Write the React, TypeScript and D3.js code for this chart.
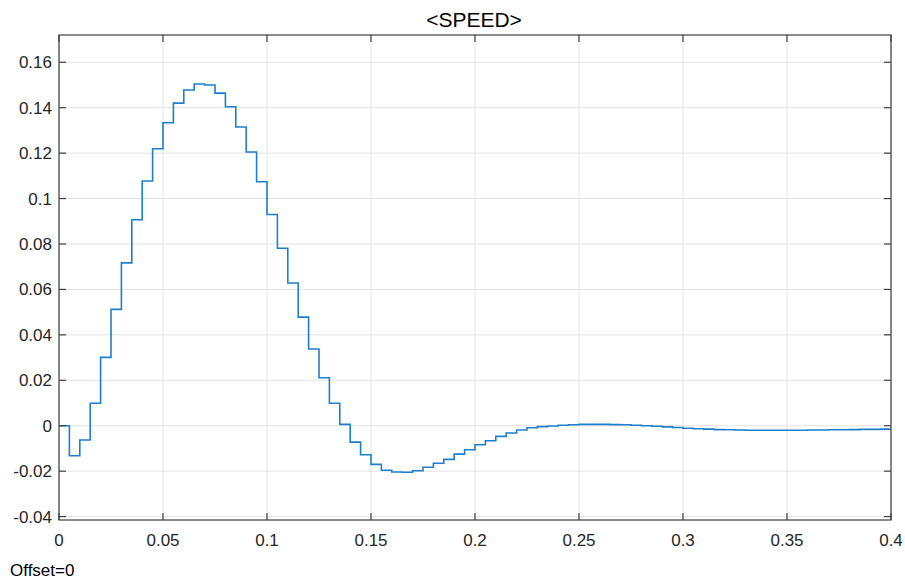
import React from "react";
import * as d3 from "d3";

const sampleTime = 0.005;
const speedValues: number[] = [
  0, -0.0132, -0.0063, 0.0099, 0.0301, 0.0512, 0.0717, 0.0907, 0.1077, 0.1219,
  0.1334, 0.142, 0.1478, 0.1504, 0.15, 0.1464, 0.1404, 0.1315, 0.1205, 0.1074,
  0.093, 0.0781, 0.0628, 0.0478, 0.0338, 0.0211, 0.0099, 0.0006, -0.0072, -0.0128,
  -0.017, -0.0196, -0.0204, -0.0205, -0.0198, -0.0183, -0.0165, -0.0148, -0.0125, -0.0106,
  -0.0084, -0.0066, -0.0047, -0.0032, -0.0019, -0.0009,
  -0.0004, -0.0001, 0.0002, 0.0004, 0.0006, 0.0006, 0.0006, 0.0005, 0.0004, 0.0002,
  0.0, -0.0002, -0.0005, -0.0008, -0.0011, -0.0013, -0.0015, -0.0017, -0.0018, -0.0019,
  -0.002, -0.002, -0.002, -0.002, -0.002, -0.002, -0.0019, -0.0019, -0.0018, -0.0018,
  -0.0017, -0.0016, -0.0016, -0.0015, -0.0015,
];
const xTicks: number[] = [0, 0.05, 0.1, 0.15, 0.2, 0.25, 0.3, 0.35, 0.4];
const yTicks: number[] = [-0.04, -0.02, 0, 0.02, 0.04, 0.06, 0.08, 0.1, 0.12, 0.14, 0.16];
const titleText = "<SPEED>";
const footerText = "Offset=0";

const W = 905;
const H = 583;
const left = 59;
const right = 891;
const top = 35;
const bottom = 520;
const FONT = "'Liberation Sans', Arial, sans-serif";

export default function App() {
  const x = d3.scaleLinear().domain([0, 0.4]).range([left, right]);
  const y = d3.scaleLinear().domain([-0.0415, 0.172]).range([bottom, top]);
  const pts: [number, number][] = speedValues.map((v, i) => [i * sampleTime, v]);
  const line = d3
    .line<[number, number]>()
    .x((d) => x(d[0]))
    .y((d) => y(d[1]))
    .curve(d3.curveStepAfter);
  const fmt = (v: number) => {
    const s = d3.format("~g")(+v.toFixed(4));
    return s.replace("−", "-");
  };
  const tickLen = 7;
  const axisColor = "#404040";
  return (
    <svg
      width={W}
      height={H}
      style={{ position: "absolute", left: 0, top: 0, background: "#fff" }}
    >
      <rect x={0} y={0} width={W} height={H} fill="#fff" />
      {xTicks.map((t) => (
        <line key={"gx" + t} x1={x(t)} x2={x(t)} y1={top} y2={bottom} stroke="#e3e3e3" strokeWidth={1} />
      ))}
      {yTicks.map((t) => (
        <line key={"gy" + t} x1={left} x2={right} y1={y(t)} y2={y(t)} stroke="#e3e3e3" strokeWidth={1} />
      ))}
      <path d={line(pts) || ""} fill="none" stroke="#1f7fcc" strokeWidth={1.6} />
      <rect x={left} y={top} width={right - left} height={bottom - top} fill="none" stroke={axisColor} strokeWidth={1.2} />
      {xTicks.map((t) => (
        <g key={"tx" + t}>
          <line x1={x(t)} x2={x(t)} y1={bottom} y2={bottom - tickLen} stroke={axisColor} strokeWidth={1.2} />
          <line x1={x(t)} x2={x(t)} y1={top} y2={top + tickLen} stroke={axisColor} strokeWidth={1.2} />
          <text x={x(t)} y={546} textAnchor="middle" fontFamily={FONT} fontSize={17} fill="#262626">
            {fmt(t)}
          </text>
        </g>
      ))}
      {yTicks.map((t) => (
        <g key={"ty" + t}>
          <line x1={left} x2={left + tickLen} y1={y(t)} y2={y(t)} stroke={axisColor} strokeWidth={1.2} />
          <line x1={right} x2={right - tickLen} y1={y(t)} y2={y(t)} stroke={axisColor} strokeWidth={1.2} />
          <text x={52} y={y(t) + 6} textAnchor="end" fontFamily={FONT} fontSize={17} fill="#262626">
            {fmt(t)}
          </text>
        </g>
      ))}
      <text x={(left + right) / 2 - 1} y={27} textAnchor="middle" fontFamily={FONT} fontSize={21} fill="#000">
        {titleText}
      </text>
      <text x={10} y={576} fontFamily={FONT} fontSize={17} fill="#000">
        {footerText}
      </text>
    </svg>
  );
}
